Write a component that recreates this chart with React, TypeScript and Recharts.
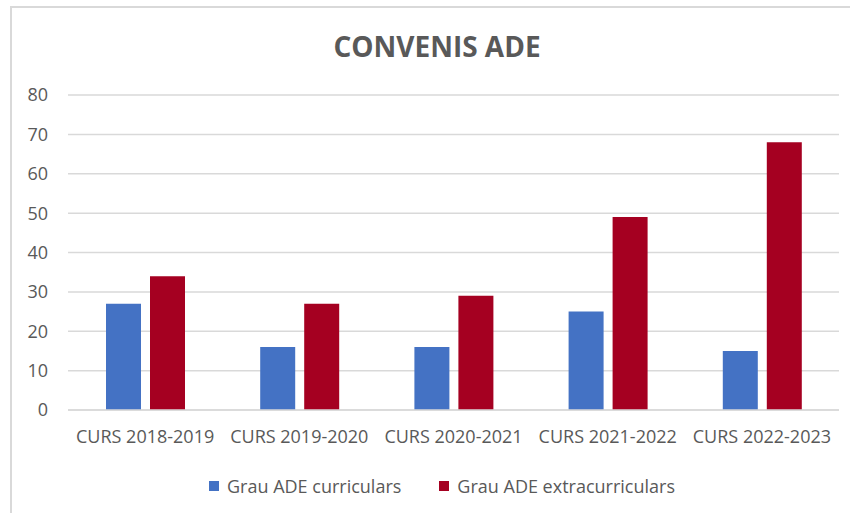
import { BarChart, Bar, XAxis, YAxis, CartesianGrid } from "recharts";

const categories = [
  "CURS 2018-2019",
  "CURS 2019-2020",
  "CURS 2020-2021",
  "CURS 2021-2022",
  "CURS 2022-2023",
];
const curriculars = [27, 16, 16, 25, 15];
const extracurriculars = [34, 27, 29, 49, 68];
const yTicks = [0, 10, 20, 30, 40, 50, 60, 70, 80];

const seriesNames = ["Grau ADE curriculars", "Grau ADE extracurriculars"];
const colors = ["#4472C4", "#A50021"];

const data = categories.map((curs, i) => ({
  curs,
  curriculars: curriculars[i],
  extracurriculars: extracurriculars[i],
}));

const FONT = "'Open Sans', sans-serif";
const TEXT = "#595959";

const LegendContent = () => (
  <div
    style={{
      position: "absolute",
      left: 0,
      top: 473,
      width: 850,
      display: "flex",
      justifyContent: "center",
      fontFamily: FONT,
      fontSize: 18,
      color: TEXT,
      paddingLeft: 34,
      boxSizing: "border-box",
      lineHeight: "26px",
    }}
  >
    {seriesNames.map((name, i) => (
      <div
        key={name}
        style={{ display: "flex", alignItems: "center", marginRight: i === 0 ? 38 : 0 }}
      >
        <span
          style={{
            display: "inline-block",
            width: 10,
            height: 10,
            background: colors[i],
            marginRight: 8,
          }}
        />
        {name}
      </div>
    ))}
  </div>
);

export default function App() {
  return (
    <div
      style={{
        position: "absolute",
        left: 0,
        top: 0,
        width: 850,
        height: 513,
        overflow: "hidden",
        background: "#fff",
      }}
    >
      <div
        style={{
          position: "absolute",
          left: 10,
          top: 6,
          width: 860,
          height: 540,
          border: "2px solid #d9d9d9",
          boxSizing: "border-box",
        }}
      />
      <div
        style={{
          position: "absolute",
          left: 0,
          top: 27,
          width: 874,
          textAlign: "center",
          fontFamily: FONT,
          fontWeight: 700,
          fontSize: 28,
          color: TEXT,
          lineHeight: "38px",
        }}
      >
        CONVENIS ADE
      </div>
      <div style={{ position: "absolute", left: 0, top: 0 }}>
        <BarChart
          width={850}
          height={513}
          data={data}
          margin={{ top: 95, right: 11, left: 0, bottom: 63 }}
          barSize={35}
          barGap={9}
        >
          <CartesianGrid vertical={false} stroke="#d9d9d9" strokeWidth={1.5} />
          <XAxis
            dataKey="curs"
            axisLine={{ stroke: "#d9d9d9", strokeWidth: 1.5 }}
            tickLine={false}
            tickSize={0}
            tickMargin={20}
            height={40}
            tick={{ fill: TEXT, fontSize: 18, fontFamily: FONT }}
            interval={0}
          />
          <YAxis
            domain={[0, 80]}
            ticks={yTicks}
            axisLine={false}
            tickLine={false}
            tickSize={0}
            tickMargin={20}
            width={68}
            tick={{ fill: TEXT, fontSize: 18, fontFamily: FONT }}
          />
          <Bar
            dataKey="curriculars"
            name={seriesNames[0]}
            fill={colors[0]}
            isAnimationActive={false}
          />
          <Bar
            dataKey="extracurriculars"
            name={seriesNames[1]}
            fill={colors[1]}
            isAnimationActive={false}
          />
        </BarChart>
      </div>
      <LegendContent />
    </div>
  );
}
